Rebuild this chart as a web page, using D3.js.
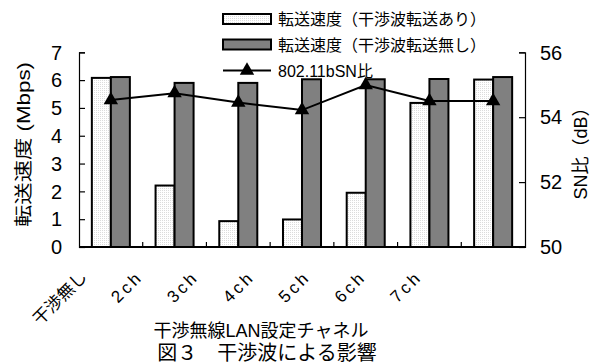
<!DOCTYPE html>
<html><head><meta charset="utf-8">
<script src="https://cdn.jsdelivr.net/npm/d3@7"></script>
<style>body{margin:0;background:#fff}svg{display:block}text{font-family:"Liberation Sans","Noto Sans CJK JP",sans-serif;fill:#000}</style>
</head><body>
<script>
const categories = ["干渉無し","2ch","3ch","4ch","5ch","6ch","7ch"];
const speedWith = [6.08, 2.21, 0.93, 0.99, 1.95, 5.18, 6.02];
const speedWithout = [6.11, 5.90, 5.90, 6.03, 6.03, 6.04, 6.11];
const snRatio = [54.53, 54.74, 54.45, 54.22, 54.99, 54.50, 54.50];
const seriesNames = ["転送速度（干渉波転送あり）","転送速度（干渉波転送無し）","802.11bSN比"];
const leftTicks = [0,1,2,3,4,5,6,7];
const rightTicks = [50,52,54,56];

const W=591,H=363;
const svg=d3.select("body").append("svg").attr("width",W).attr("height",H);
const defs=svg.append("defs");
const pat=defs.append("pattern").attr("id","dots").attr("width",2).attr("height",2).attr("patternUnits","userSpaceOnUse");
pat.append("rect").attr("width",2).attr("height",2).attr("fill","#fff");
pat.append("rect").attr("width",1).attr("height",1).attr("fill","#dcdcdc");

const L=79,R=525,T=52.3,B=247;
const x=d3.scaleBand().domain(categories).range([L,R]).padding(0);
const x1=d3.scaleBand().domain(["with","without"]).range([0,x.bandwidth()]).paddingInner(0).paddingOuter(0.676);
const y=d3.scaleLinear().domain([0,7]).range([B,T]);
const y2=d3.scaleLinear().domain([50,56]).range([B,T]);
const xl=d3.scalePoint().domain(categories).range([88,423]);

// bars
const g=svg.append("g");
categories.forEach((c,i)=>{
  g.append("rect").attr("x",x(c)+x1("with")).attr("y",y(speedWith[i])).attr("width",x1.bandwidth()).attr("height",B-y(speedWith[i]))
   .attr("fill","url(#dots)").attr("stroke","#000").attr("stroke-width",2);
  g.append("rect").attr("x",x(c)+x1("without")).attr("y",y(speedWithout[i])).attr("width",x1.bandwidth()).attr("height",B-y(speedWithout[i]))
   .attr("fill","#808080").attr("stroke","#000").attr("stroke-width",2);
});

// axes
const axL=svg.append("g").attr("transform",`translate(${L},0)`).call(d3.axisRight(y).tickValues(leftTicks).tickSize(6).tickFormat(""));
const axR=svg.append("g").attr("transform",`translate(${R},0)`).call(d3.axisLeft(y2).tickValues(rightTicks).tickSize(6).tickFormat(""));
[axL,axR].forEach(a=>{a.select(".domain").attr("stroke","#000").attr("stroke-width",1.2);a.selectAll(".tick line").attr("stroke","#000").attr("stroke-width",1.2);});
svg.append("g").selectAll("text").data(leftTicks).join("text").attr("x",62).attr("y",d=>y(d)).attr("dy","0.36em")
  .attr("text-anchor","end").attr("font-size",20).text(d=>d);
svg.append("g").selectAll("text").data(rightTicks).join("text").attr("x",540).attr("y",d=>y2(d)).attr("dy","0.36em")
  .attr("text-anchor","start").attr("font-size",20).text(d=>d);
// bottom axis
const bounds=categories.slice(1).map(c=>x(c));
svg.append("line").attr("x1",L).attr("x2",R).attr("y1",B).attr("y2",B).attr("stroke","#000").attr("stroke-width",2);
svg.append("g").selectAll("line").data(bounds).join("line").attr("x1",d=>d).attr("x2",d=>d).attr("y1",B).attr("y2",B-5).attr("stroke","#000").attr("stroke-width",1.2);

// SN line
const cx=c=>x(c)+x.bandwidth()/2;
svg.append("path").datum(snRatio).attr("fill","none").attr("stroke","#000").attr("stroke-width",2)
  .attr("d",d3.line().x((d,i)=>cx(categories[i])).y(d=>y2(d)));
const tri=d3.symbol().type(d3.symbolTriangle).size(90);
svg.append("g").selectAll("path").data(snRatio).join("path").attr("transform",(d,i)=>`translate(${cx(categories[i])},${y2(d)})`).attr("d",tri).attr("fill","#000");

// x labels
svg.append("g").selectAll("text").data(categories).join("text")
  .attr("transform",d=>`translate(${xl(d)},278) rotate(-45)`).attr("text-anchor","end")
  .attr("font-size",17).attr("letter-spacing",d=>d.endsWith("ch")?"3px":"0px").text(d=>d);

// titles
svg.append("text").attr("x",261).attr("y",337).attr("text-anchor","middle").attr("font-size",18).text("干渉無線LAN設定チャネル");
svg.append("text").attr("x",267).attr("y",360).attr("text-anchor","middle").attr("font-size",20).text("図３　干渉波による影響");
svg.append("text").attr("transform","translate(30,144.5) rotate(-90)").attr("text-anchor","middle").attr("font-size",18)
  .attr("textLength",165).attr("lengthAdjust","spacingAndGlyphs").text("転送速度 (Mbps)");
svg.append("text").attr("transform","translate(587,149) rotate(-90)").attr("text-anchor","middle").attr("font-size",18).text("SN比（dB）");

// legend
const lg=svg.append("g");
const rows=[19,44.5,70.5];
lg.append("rect").attr("x",223).attr("y",rows[0]-5).attr("width",48).attr("height",10).attr("fill","url(#dots)").attr("stroke","#000").attr("stroke-width",2);
lg.append("rect").attr("x",223).attr("y",rows[1]-5).attr("width",48).attr("height",10).attr("fill","#808080").attr("stroke","#000").attr("stroke-width",2);
lg.append("line").attr("x1",223).attr("x2",271).attr("y1",rows[2]).attr("y2",rows[2]).attr("stroke","#000").attr("stroke-width",2);
lg.append("path").attr("transform",`translate(247,${rows[2]})`).attr("d",tri).attr("fill","#000");
lg.selectAll("text").data(seriesNames).join("text").attr("x",278).attr("y",(d,i)=>rows[i]+6).attr("font-size",16).text(d=>d);
</script>
</body></html>
